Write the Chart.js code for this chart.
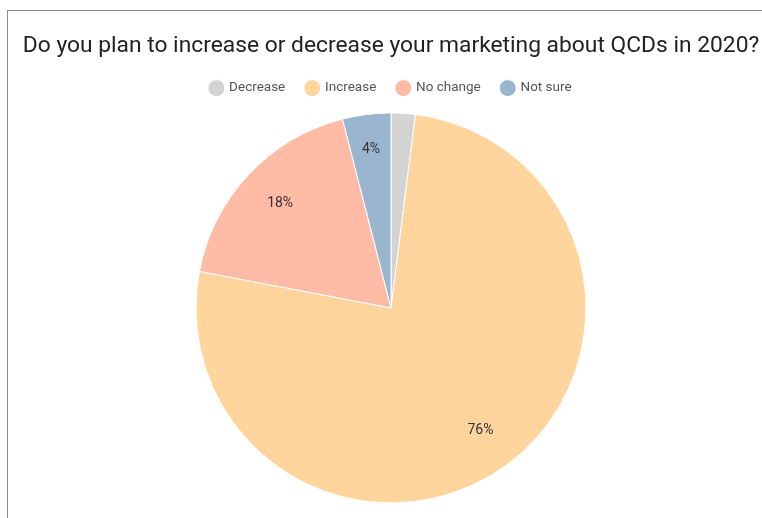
<!DOCTYPE html>
<html>
<head>
<meta charset="utf-8">
<script src="https://cdn.jsdelivr.net/npm/chart.js@4/dist/chart.umd.min.js"></script>
<style>
    html, body { margin: 0; padding: 0; background: #fff; overflow: hidden; }
    #wrap {
        position: absolute;
        left: 7px;
        top: 10px;
        width: 766px;
        height: 508px;
        border-top: 1px solid #8a8a8a;
        border-left: 1px solid #8a8a8a;
    }
</style>
</head>
<body>
<div id="wrap"><canvas id="chart" width="766" height="508"></canvas></div>
<script>
var labels = ['Decrease', 'Increase', 'No change', 'Not sure'];
var answers = [2, 76, 18, 4];
var colors = ['#d3d3d3', '#ffd59d', '#ffbba5', '#9ab6cf'];

// percent labels inside the slices, small slices are left blank
var sliceLabels = {
    id: 'sliceLabels',
    afterDatasetsDraw: function (chart) {
        var ctx = chart.ctx;
        var total = answers.reduce(function (a, b) { return a + b; }, 0);
        chart.getDatasetMeta(0).data.forEach(function (arc, i) {
            var pct = Math.round(answers[i] / total * 100);
            if (pct < 3) return;
            var mid = (arc.startAngle + arc.endAngle) / 2;
            var r = arc.outerRadius * (pct < 6 ? 0.82 : 0.78);
            ctx.save();
            ctx.font = '14px Roboto';
            ctx.fillStyle = '#333';
            ctx.textAlign = 'center';
            ctx.textBaseline = 'middle';
            ctx.fillText(pct + '%', arc.x + Math.cos(mid) * r, arc.y + Math.sin(mid) * r);
            ctx.restore();
        });
    }
};

var chartPlans = new Chart(
    document.getElementById('chart'),
    {
        type: 'pie',
        data: {
            labels: labels,
            datasets: [{
                data: answers,
                backgroundColor: colors,
                borderColor: '#ffffff',
                borderWidth: 1,
                radius: 195
            }]
        },
        options: {
            responsive: false,
            animation: false,
            layout: {
                padding: { top: 0, bottom: 8 }
            },
            plugins: {
                title: {
                    display: true,
                    text: 'Do you plan to increase or decrease your marketing about QCDs in 2020?',
                    color: '#222',
                    font: { family: 'Roboto', size: 22.8, weight: 'normal' },
                    padding: { top: 22, bottom: 0 }
                },
                legend: {
                    position: 'top',
                    labels: {
                        usePointStyle: true,
                        pointStyle: 'circle',
                        boxWidth: 12,
                        boxHeight: 12,
                        color: '#555',
                        font: { family: 'Roboto', size: 13.5 },
                        padding: 21
                    }
                },
                tooltip: { enabled: false }
            }
        },
        plugins: [sliceLabels]
    }
);
</script>
</body>
</html>
